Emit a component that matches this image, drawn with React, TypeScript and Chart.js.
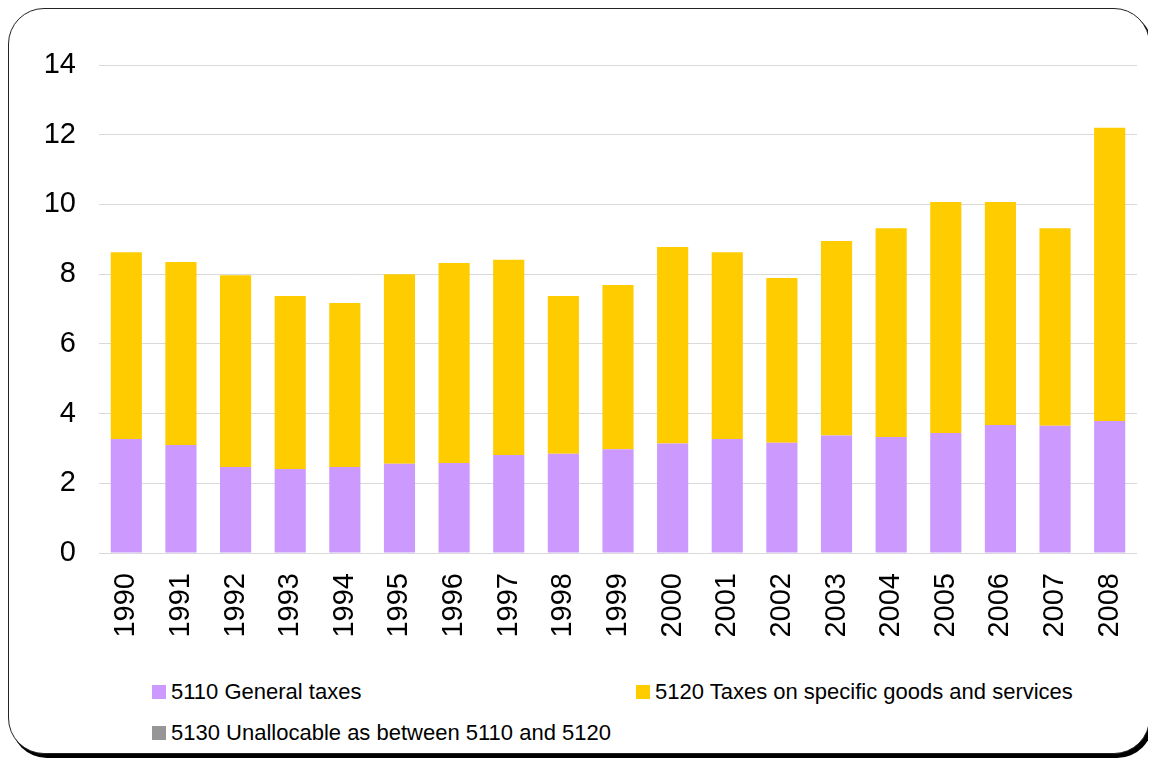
import React, { useEffect, useRef } from "react";
import { Chart, registerables } from "chart.js";

Chart.register(...registerables);

const years = ["1990","1991","1992","1993","1994","1995","1996","1997","1998","1999","2000","2001","2002","2003","2004","2005","2006","2007","2008"];
const generalTaxes = [3.27, 3.10, 2.47, 2.41, 2.47, 2.56, 2.58, 2.81, 2.85, 2.98, 3.14, 3.27, 3.16, 3.37, 3.33, 3.44, 3.67, 3.65, 3.79];
const specificTaxes = [5.36, 5.25, 5.50, 4.96, 4.70, 5.44, 5.74, 5.60, 4.52, 4.71, 5.64, 5.36, 4.73, 5.58, 5.99, 6.63, 6.40, 5.67, 8.41];
const unallocable = [0, 0, 0, 0, 0, 0, 0, 0, 0, 0, 0, 0, 0, 0, 0, 0, 0, 0, 0];
const yTicks = [0, 2, 4, 6, 8, 10, 12, 14];

const seriesNames = [
  "5110 General taxes",
  "5120 Taxes on specific goods and services",
  "5130 Unallocable as between 5110 and 5120",
];
const colors = ["#CC99FF", "#FFCC00", "#969696"];

const FONT = "'Liberation Sans', Arial, sans-serif";

export default function App() {
  const ref = useRef<HTMLCanvasElement | null>(null);

  useEffect(() => {
    if (!ref.current) return;
    const chart = new Chart(ref.current, {
      type: "bar",
      data: {
        labels: years,
        datasets: [
          { label: seriesNames[0], data: generalTaxes, backgroundColor: colors[0], borderWidth: 0 },
          { label: seriesNames[1], data: specificTaxes, backgroundColor: colors[1], borderWidth: 0 },
          { label: seriesNames[2], data: unallocable, backgroundColor: colors[2], borderWidth: 0 },
        ],
      },
      options: {
        animation: false,
        responsive: false,
        maintainAspectRatio: false,
        layout: { padding: { top: 57, right: 11, left: 0, bottom: 0 } },
        datasets: { bar: { barPercentage: 0.57, categoryPercentage: 1 } },
        plugins: { legend: { display: false }, tooltip: { enabled: false } },
        scales: {
          x: {
            stacked: true,
            grid: { display: false, drawTicks: false },
            border: { display: false },
            ticks: {
              color: "#000",
              font: { family: FONT, size: 29 },
              maxRotation: 90,
              minRotation: 90,
              padding: 20,
              autoSkip: false,
            },
            afterFit: (s: any) => {
              s.height = 115;
              s.paddingLeft = 0;
              s.paddingRight = 0;
            },
          },
          y: {
            stacked: true,
            min: 0,
            max: 14,
            grid: { color: "#d9d9d9", lineWidth: 1, drawTicks: false },
            border: { display: false },
            afterBuildTicks: (s: any) => { s.ticks = yTicks.map((v) => ({ value: v })); },
            ticks: {
              color: "#000",
              font: { family: FONT, size: 29 },
              padding: 23,
            },
            afterFit: (s: any) => { s.width = 91; },
          },
        },
      },
    });
    return () => chart.destroy();
  }, []);

  const legendItem = (i: number, left: number, top: number) => (
    <div
      key={i}
      style={{
        position: "absolute",
        left,
        top,
        display: "flex",
        alignItems: "center",
        fontFamily: FONT,
        fontSize: 22,
        color: "#000",
        whiteSpace: "nowrap",
        lineHeight: "24px",
      }}
    >
      <span style={{ display: "inline-block", width: 14, height: 14, background: colors[i], marginRight: 5 }} />
      <span>{seriesNames[i]}</span>
    </div>
  );

  return (
    <div style={{ position: "relative", width: 1148, height: 752 }}>
      <div
        style={{
          position: "absolute",
          left: 0,
          top: 0,
          width: 1140,
          height: 744,
          border: "1.5px solid #222",
          borderRadius: 36,
          boxShadow: "3px 4px 0 #000",
          background: "#fff",
        }}
      />
      <canvas
        ref={ref}
        width={1140}
        height={660}
        style={{ position: "absolute", left: 0, top: 0, width: 1140, height: 660 }}
      />
      {legendItem(0, 144, 672)}
      {legendItem(1, 628, 672)}
      {legendItem(2, 144, 713)}
    </div>
  );
}
